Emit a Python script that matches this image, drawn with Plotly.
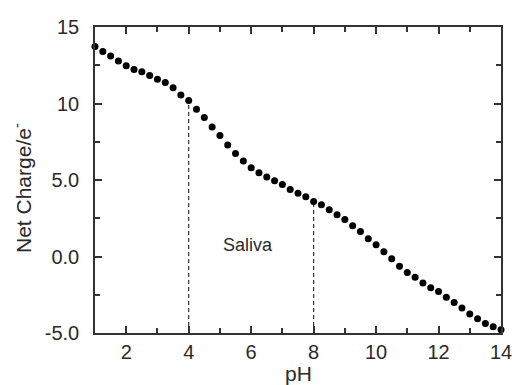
import plotly.graph_objects as go

ph = [1.0, 1.25, 1.5, 1.75, 2.0, 2.25, 2.5, 2.75, 3.0, 3.25, 3.5, 3.75,
      4.0, 4.25, 4.5, 4.75, 5.0, 5.25, 5.5, 5.75, 6.0, 6.25, 6.5, 6.75,
      7.0, 7.25, 7.5, 7.75, 8.0, 8.25, 8.5, 8.75, 9.0, 9.25, 9.5, 9.75,
      10.0, 10.25, 10.5, 10.75, 11.0, 11.25, 11.5, 11.75, 12.0, 12.25,
      12.5, 12.75, 13.0, 13.25, 13.5, 13.75, 14.0]
net_charge = [13.73, 13.40, 13.10, 12.77, 12.46, 12.22, 12.07, 11.83, 11.59,
              11.37, 11.03, 10.55, 10.20, 9.63, 9.08, 8.46, 7.91, 7.28, 6.73,
              6.25, 5.80, 5.47, 5.19, 4.95, 4.70, 4.38, 4.14, 3.90, 3.59, 3.38,
              3.05, 2.73, 2.42, 2.01, 1.64, 1.16, 0.76, 0.31, -0.15, -0.63,
              -1.05, -1.35, -1.74, -2.05, -2.29, -2.67, -3.01, -3.36, -3.76,
              -4.07, -4.38, -4.59, -4.79]
saliva_bounds = [4, 8]
saliva_label = "Saliva"
saliva_label_pos = [5.9, 0.75]
x_ticks = [2, 4, 6, 8, 10, 12, 14]
y_ticks = [-5, 0, 5, 10, 15]
y_ticktext = ["-5.0", "0.0", "5.0", "10", "15"]
x_range = [1, 14]
y_range = [-5, 15]

FONT = "Liberation Sans, Arial, sans-serif"
TXT = "#2a2a2a"
fig = go.Figure()

for b in saliva_bounds:
    yv = net_charge[ph.index(b)]
    fig.add_trace(go.Scatter(x=[b, b], y=[y_range[0], yv], mode="lines",
                             line=dict(color="#333333", width=1.2, dash="4px,3px"),
                             showlegend=False, hoverinfo="skip"))

fig.add_trace(go.Scatter(x=ph, y=net_charge, mode="markers",
                         marker=dict(color="black", size=7),
                         cliponaxis=False, showlegend=False))

fig.add_annotation(x=saliva_label_pos[0], y=saliva_label_pos[1], text=saliva_label,
                   showarrow=False, font=dict(family=FONT, size=18, color=TXT))

# axis titles
fig.add_annotation(xref="paper", yref="paper", x=0.5, y=0, yanchor="middle",
                   yshift=-40, text="pH", showarrow=False,
                   font=dict(family=FONT, size=21, color=TXT))
fig.add_annotation(xref="paper", yref="paper", x=0, y=0.5, xanchor="center",
                   yanchor="middle", xshift=-73, yshift=-8, textangle=-90,
                   text="Net Charge/e<sup>-</sup>", showarrow=False,
                   font=dict(family=FONT, size=21, color=TXT))

axis_common = dict(showgrid=False, zeroline=False, showline=True, automargin=False,
                   linecolor="#333333", linewidth=1.5, mirror="allticks",
                   ticks="inside", ticklen=7, tickwidth=1.5, tickcolor="#333333",
                   ticklabeloverflow="allow",
                   tickfont=dict(family=FONT, size=20, color=TXT))

fig.update_xaxes(range=x_range, tickvals=x_ticks, **axis_common,
                 minor=dict(dtick=1, ticks="inside", ticklen=5, tickwidth=1.5,
                            tickcolor="#333333"))
fig.update_yaxes(range=y_range, tickvals=y_ticks, ticktext=y_ticktext, **axis_common,
                 ticklabelstandoff=10,
                 minor=dict(dtick=2.5, ticks="inside", ticklen=5, tickwidth=1.5,
                            tickcolor="#333333"))

fig.update_layout(width=512, height=385, plot_bgcolor="white", paper_bgcolor="white",
                  margin=dict(l=95, r=11, t=27, b=52))
fig.write_html(
    "out.html",
    config={"displayModeBar": False},
    post_script="document.body.style.margin='0';"
                "document.documentElement.style.overflow='hidden';",
)
